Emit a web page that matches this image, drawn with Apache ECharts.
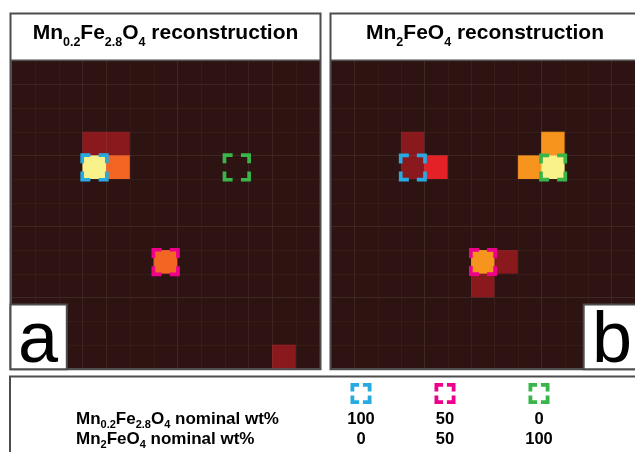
<!DOCTYPE html>
<html>
<head>
<meta charset="utf-8">
<script src="https://cdn.jsdelivr.net/npm/echarts@6/dist/echarts.min.js"></script>
<style>
  html, body { margin: 0; padding: 0; background: #ffffff; }
  #chart { width: 635px; height: 452px; }
</style>
</head>
<body>
<div id="chart"></div>
<script>
// ---- data -------------------------------------------------------------
// 13 x 13 reconstruction pixels, row 0 at the top; normalised intensity 0..1
const pixelIndex = ['0','1','2','3','4','5','6','7','8','9','10','11','12'];

const reconA = [
  [0,0,0,0,0,0,0,0,0,0,0,0,0],
  [0,0,0,0,0,0,0,0,0,0,0,0,0],
  [0,0,0,0,0,0,0,0,0,0,0,0,0],
  [0,0,0,0.2,0.2,0,0,0,0,0,0,0,0],
  [0,0,0,1,0.6,0,0,0,0,0,0,0,0],
  [0,0,0,0,0,0,0,0,0,0,0,0,0],
  [0,0,0,0,0,0,0,0,0,0,0,0,0],
  [0,0,0,0,0,0,0,0,0,0,0,0,0],
  [0,0,0,0,0,0,0.6,0,0,0,0,0,0],
  [0,0,0,0,0,0,0,0,0,0,0,0,0],
  [0,0,0,0,0,0,0,0,0,0,0,0,0],
  [0,0,0,0,0,0,0,0,0,0,0,0,0],
  [0,0,0,0,0,0,0,0,0,0,0,0.2,0]
];

const reconB = [
  [0,0,0,0,0,0,0,0,0,0,0,0,0],
  [0,0,0,0,0,0,0,0,0,0,0,0,0],
  [0,0,0,0,0,0,0,0,0,0,0,0,0],
  [0,0,0,0.2,0,0,0,0,0,0.8,0,0,0],
  [0,0,0,0.2,0.4,0,0,0,0.8,1,0,0,0],
  [0,0,0,0,0,0,0,0,0,0,0,0,0],
  [0,0,0,0,0,0,0,0,0,0,0,0,0],
  [0,0,0,0,0,0,0,0,0,0,0,0,0],
  [0,0,0,0,0,0,0.8,0.2,0,0,0,0,0],
  [0,0,0,0,0,0,0.2,0,0,0,0,0,0],
  [0,0,0,0,0,0,0,0,0,0,0,0,0],
  [0,0,0,0,0,0,0,0,0,0,0,0,0],
  [0,0,0,0,0,0,0,0,0,0,0,0,0]
];

// nominal sample pixels [column, row] and their compositions
const sampleCells = [[3,4],[6,8],[9,4]];
const mnFe28Wt = [100, 50, 0];
const mn2FeWt  = [0, 50, 100];

// formula fragments: [text, isSubscript]
const titleA = [['Mn',0],['0.2',1],['Fe',0],['2.8',1],['O',0],['4',1],[' reconstruction',0]];
const titleB = [['Mn',0],['2',1],['FeO',0],['4',1],[' reconstruction',0]];
const rowLabelA = [['Mn',0],['0.2',1],['Fe',0],['2.8',1],['O',0],['4',1],[' nominal wt%',0]];
const rowLabelB = [['Mn',0],['2',1],['FeO',0],['4',1],[' nominal wt%',0]];
const panelLetters = ['a','b'];

// ---- styles -----------------------------------------------------------
const FONT = '"Liberation Sans", Arial, Helvetica, sans-serif';
const colormap = ['#2d1412', '#8a191e', '#e42127', '#f26522', '#f7941e', '#f9f28a'];
const sampleColors = ['#27aae1', '#ec008c', '#39b54a'];
const frameColor = '#4d4d4d';
const gridLineColor = 'rgba(130,90,80,0.11)';

const measureCtx = document.createElement('canvas').getContext('2d');
function fontStr(weight, size) { return weight + ' ' + size + 'px ' + FONT; }
function textWidth(str, font) { measureCtx.font = font; return measureCtx.measureText(str).width; }
// distance from the 'middle' line to the alphabetic baseline
function midToBase(font) {
  measureCtx.font = font;
  measureCtx.textBaseline = 'middle';
  const d = measureCtx.measureText('M').actualBoundingBoxDescent;
  measureCtx.textBaseline = 'alphabetic';
  return d;
}

function textEl(str, x, baseY, font, align) {
  return {
    type: 'text', z: 120, silent: true,
    x: x, y: baseY - midToBase(font),
    style: {
      text: str, font: font, fill: '#000',
      align: align, textAlign: align,
      verticalAlign: 'middle', textVerticalAlign: 'middle'
    }
  };
}

// lays out a formula with subscripts starting at x (or centred on x)
function formula(parts, x, baseY, size, subSize, subDrop, anchor) {
  const main = fontStr('bold', size), sub = fontStr('bold', subSize);
  const widths = parts.map(p => textWidth(p[0], p[1] ? sub : main));
  const total = widths.reduce((a, b) => a + b, 0);
  let cx = anchor === 'center' ? x - total / 2 : x;
  const els = [];
  parts.forEach((p, i) => {
    els.push(textEl(p[0], cx, p[1] ? baseY + subDrop : baseY, p[1] ? sub : main, 'left'));
    cx += widths[i];
  });
  return els;
}

// four corner brackets around a square
function brackets(cx, cy, size, arm, t, color, z) {
  const h = size / 2, x0 = cx - h, y0 = cy - h, x1 = cx + h, y1 = cy + h;
  const corners = [[x0, y0, 1, 1], [x1, y0, -1, 1], [x0, y1, 1, -1], [x1, y1, -1, -1]];
  return corners.map(([x, y, sx, sy]) => ({
    type: 'polygon', z: z, silent: true,
    shape: { points: [[x, y], [x + sx * arm, y], [x + sx * arm, y + sy * t], [x + sx * t, y + sy * t], [x + sx * t, y + sy * arm], [x, y + sy * arm]] },
    style: { fill: color }
  }));
}

function toCells(matrix) {
  const out = [];
  matrix.forEach((row, r) => row.forEach((v, c) => out.push([c, r, v])));
  return out;
}

// ---- layout -----------------------------------------------------------
const panels = [
  { left: 11.5, frameX: 10.5, frameW: 310, titleX: 165.5, title: titleA, data: reconA },
  { left: 331, frameX: 330.5, frameW: 330, titleX: 485, title: titleB, data: reconB }
];
const gridTop = 61, gridSize = 308.3, gridH = 307.5;

const grids = [], xAxes = [], yAxes = [], series = [];
panels.forEach((p, i) => {
  grids.push({ left: p.left, top: gridTop, width: gridSize, height: gridH, containLabel: false });
  xAxes.push({
    gridIndex: i, type: 'category', data: pixelIndex, z: 3,
    axisLine: { show: false }, axisTick: { show: false }, axisLabel: { show: false },
    splitLine: { show: true, interval: 0, lineStyle: { color: gridLineColor, width: 1 } }
  });
  yAxes.push({
    gridIndex: i, type: 'category', data: pixelIndex, inverse: true, z: 3,
    axisLine: { show: false }, axisTick: { show: false }, axisLabel: { show: false },
    splitLine: { show: true, interval: 0, lineStyle: { color: gridLineColor, width: 1 } }
  });
  series.push({
    type: 'heatmap', xAxisIndex: i, yAxisIndex: i, data: toCells(p.data),
    silent: true, emphasis: { disabled: true }, progressive: 0
  });
});
panels.forEach((p, i) => {
  series.push({
    type: 'custom', xAxisIndex: i, yAxisIndex: i, z: 5, silent: true,
    data: sampleCells.map((c, k) => [c[0], c[1], k]),
    renderItem: function (params, api) {
      const c = api.coord([api.value(0), api.value(1)]);
      const s = api.size([1, 1]);
      return { type: 'group', children: brackets(c[0], c[1], s[0] + 4.6, 10, 3.7, sampleColors[api.value(2)], 5) };
    }
  });
});

// ---- frames, titles, panel letters, composition table -----------------
const graphics = [];
panels.forEach((p, i) => {
  graphics.push({ type: 'rect', z: 110, silent: true,
    shape: { x: p.frameX, y: 13.5, width: p.frameW, height: 355.7 },
    style: { fill: 'none', stroke: frameColor, lineWidth: 2 } });
  graphics.push({ type: 'line', z: 110, silent: true,
    shape: { x1: p.frameX, y1: 60.2, x2: p.frameX + p.frameW, y2: 60.2 },
    style: { stroke: frameColor, lineWidth: 1.5 } });
  graphics.push(...formula(p.title, p.titleX, 39.3, 21, 12.5, 6.7, 'center'));
});
// panel letters
graphics.push({ type: 'rect', z: 115, silent: true,
  shape: { x: 10.5, y: 304.5, width: 56.3, height: 64.7 },
  style: { fill: '#fff', stroke: frameColor, lineWidth: 2 } });
graphics.push(textEl(panelLetters[0], 38, 362, fontStr('normal', 72), 'center'));
graphics.push({ type: 'rect', z: 115, silent: true,
  shape: { x: 583.7, y: 304.5, width: 80, height: 64.7 },
  style: { fill: '#fff', stroke: frameColor, lineWidth: 2 } });
graphics.push(textEl(panelLetters[1], 612, 362, fontStr('normal', 72), 'center'));

// composition table
graphics.push({ type: 'rect', z: 110, silent: true,
  shape: { x: 10, y: 376.5, width: 700, height: 200 },
  style: { fill: 'none', stroke: frameColor, lineWidth: 2 } });
const colX = [361, 445, 539];
sampleColors.forEach((col, k) => graphics.push(...brackets(colX[k], 393.5, 21, 8.6, 3.8, col, 120)));
graphics.push(...formula(rowLabelA, 76, 423.5, 17, 11, 4, 'left'));
graphics.push(...formula(rowLabelB, 76, 444, 17, 11, 4, 'left'));
mnFe28Wt.forEach((v, k) => graphics.push(textEl(String(v), colX[k], 423.5, fontStr('bold', 16.5), 'center')));
mn2FeWt.forEach((v, k) => graphics.push(textEl(String(v), colX[k], 444, fontStr('bold', 16.5), 'center')));

const chart = echarts.init(document.getElementById('chart'), null, { renderer: 'canvas' });
chart.setOption({
  animation: false,
  backgroundColor: '#ffffff',
  grid: grids,
  xAxis: xAxes,
  yAxis: yAxes,
  visualMap: {
    type: 'continuous', show: false, min: 0, max: 1, dimension: 2, seriesIndex: [0, 1],
    inRange: { color: colormap }
  },
  series: series,
  graphic: { elements: graphics }
});
</script>
</body>
</html>
